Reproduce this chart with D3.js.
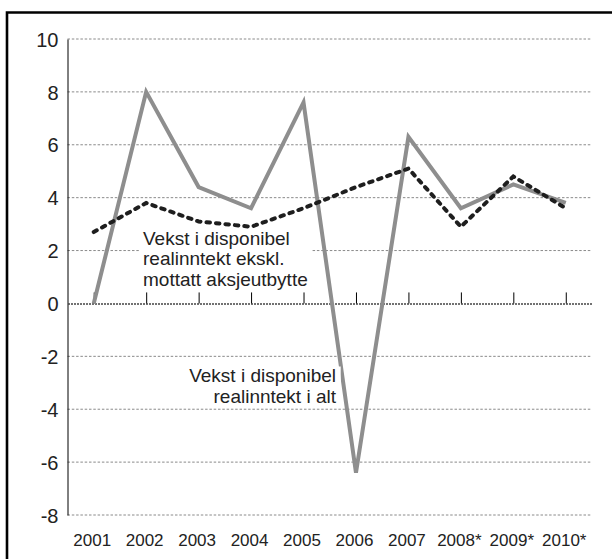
<!DOCTYPE html>
<html>
<head>
<meta charset="utf-8">
<script src="https://cdn.jsdelivr.net/npm/d3@7"></script>
<style>
  html, body { margin: 0; padding: 0; background: #fff; }
  svg { display: block; }
</style>
</head>
<body>
<div id="chart"></div>
<script>
// Chart data
const years = ["2001", "2002", "2003", "2004", "2005", "2006", "2007", "2008*", "2009*", "2010*"];
const totalGrowth = [0, 8.0, 4.4, 3.6, 7.6, -6.4, 6.3, 3.6, 4.5, 3.8];      // i alt
const exDividendGrowth = [2.7, 3.8, 3.1, 2.9, 3.6, 4.4, 5.1, 2.9, 4.8, 3.6]; // ekskl. aksjeutbytte
const yTicks = [-8, -6, -4, -2, 0, 2, 4, 6, 8, 10];

const labelExDividend = ["Vekst i disponibel", "realinntekt ekskl.", "mottatt aksjeutbytte"];
const labelTotal = ["Vekst i disponibel", "realinntekt i alt"];

const FONT = "'Liberation Sans', Arial, Helvetica, sans-serif";
const W = 612, H = 559;
const plot = { left: 67.5, right: 592, top: 39, bottom: 515 };

const svg = d3.select("#chart")
    .append("svg")
    .attr("width", W)
    .attr("height", H)
    .attr("font-family", FONT);

// Frame (only top and left edges fall inside the picture)
svg.append("path")
    .attr("d", `M7,${H + 5}V12.5H${W + 5}`)
    .attr("fill", "none")
    .attr("stroke", "#000")
    .attr("stroke-width", 2.6);

// Scales
const x = d3.scalePoint()
    .domain(years)
    .range([plot.left, plot.right])
    .padding(0.5);

const y = d3.scaleLinear()
    .domain([-8, 10])
    .range([plot.bottom, plot.top]);

// Gridlines
svg.append("g")
    .selectAll("line")
    .data(yTicks.filter(d => d !== 0))
    .join("line")
    .attr("x1", plot.left)
    .attr("x2", plot.right)
    .attr("y1", d => y(d))
    .attr("y2", d => y(d))
    .attr("stroke", "#8a8a8a")
    .attr("stroke-width", 1)
    .attr("stroke-dasharray", "2.5,1.8");

// Y axis
const yAxis = svg.append("g")
    .attr("transform", `translate(${plot.left},0)`)
    .call(d3.axisLeft(y).tickValues(yTicks).tickSize(0).tickSizeOuter(0).tickPadding(9).tickFormat(d => String(d)))
    .attr("font-family", FONT)
    .attr("font-size", 20);
yAxis.select(".domain").attr("stroke", "#000").attr("stroke-width", 1);
yAxis.selectAll("text")
    .attr("fill", "#222")
    .attr("dy", "0.36em");

// Zero line with upward ticks at the categories
const zeroAxis = svg.append("g")
    .attr("transform", `translate(0,${y(0)})`)
    .call(d3.axisTop(x).tickSize(11).tickSizeOuter(0).tickFormat(""));
zeroAxis.select(".domain")
    .attr("stroke", "#444")
    .attr("stroke-width", 1.6)
    .attr("stroke-dasharray", "2,1");
zeroAxis.selectAll(".tick line").attr("stroke", "#000").attr("stroke-width", 1);

// Category labels along the bottom
svg.append("g")
    .selectAll("text")
    .data(years)
    .join("text")
    .attr("x", d => x(d) - 1.5)
    .attr("y", 546)
    .attr("text-anchor", "middle")
    .attr("font-size", 17)
    .attr("fill", "#222")
    .text(d => d);

// Lines
const line = values => d3.line()
    .x((d, i) => x(years[i]))
    .y(d => y(d))(values);

svg.append("path")
    .attr("d", line(totalGrowth))
    .attr("fill", "none")
    .attr("stroke", "#8e8e8e")
    .attr("stroke-width", 4)
    .attr("stroke-linejoin", "miter");

svg.append("path")
    .attr("d", line(exDividendGrowth))
    .attr("fill", "none")
    .attr("stroke", "#1e1e1e")
    .attr("stroke-width", 4)
    .attr("stroke-linecap", "round")
    .attr("stroke-dasharray", "3.5,6");

// Annotations (white background behind to cut the gridlines)
function annotate(lines, ax, baseline, anchor, lh) {
    const g = svg.append("g");
    const t = g.append("text")
        .attr("font-size", 19)
        .attr("fill", "#222")
        .attr("text-anchor", anchor);
    lines.forEach((s, i) => {
        t.append("tspan").attr("x", ax).attr("y", baseline + i * lh).text(s);
    });
    const bb = t.node().getBBox();
    g.insert("rect", "text")
        .attr("x", bb.x - 4)
        .attr("y", bb.y + 2)
        .attr("width", bb.width + 8)
        .attr("height", bb.height - 4)
        .attr("fill", "#fff");
}

annotate(labelExDividend, 143, 244.5, "start", 20.5);
annotate(labelTotal, 336, 381.5, "end", 21.5);
</script>
</body>
</html>
